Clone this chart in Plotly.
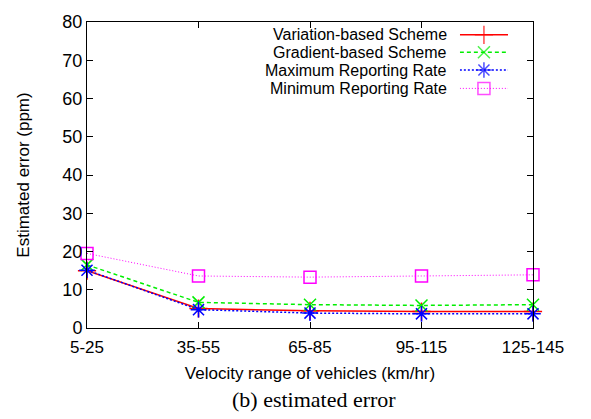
import plotly.graph_objects as go

categories = ["5-25", "35-55", "65-85", "95-115", "125-145"]
variation = [15.0, 5.1, 4.5, 4.3, 4.3]
gradient = [16.5, 6.7, 6.1, 5.9, 6.1]
max_rate = [15.1, 4.8, 3.9, 3.7, 3.7]
min_rate = [19.5, 13.6, 13.3, 13.6, 13.9]
series_names = ["Variation-based Scheme", "Gradient-based Scheme",
                "Maximum Reporting Rate", "Minimum Reporting Rate"]
y_ticks = [0, 10, 20, 30, 40, 50, 60, 70, 80]

styles = [
    dict(color="#ff0000", dash="solid", symbol="cross-thin", size=13, lw=1.5),
    dict(color="#00ee00", dash="4px,3px", symbol="x-thin", size=12, lw=1.5),
    dict(color="#0000ff", dash="2px,2px", symbol="asterisk", size=13, lw=1.5),
    dict(color="#ff00ff", dash="1px,2px", symbol="square-open", size=12, lw=1.0),
]
data = [variation, gradient, max_rate, min_rate]
xs = list(range(len(categories)))

fig = go.Figure()
for name, vals, st in zip(series_names, data, styles):
    fig.add_trace(go.Scatter(
        x=xs, y=vals, name=name, mode="lines+markers", cliponaxis=False,
        line=dict(color=st["color"], dash=st["dash"], width=st["lw"]),
        marker=dict(symbol=st["symbol"], size=st["size"], color=st["color"],
                    line=dict(color=st["color"], width=1.5)),
        showlegend=False))

# custom legend (text on the left, sample on the right, like gnuplot)
legend_rows = [0.958, 0.901, 0.843, 0.783]
for name, st, ry in zip(series_names, styles, legend_rows):
    fig.add_trace(go.Scatter(
        x=[0, 0.5, 1], y=[ry, ry, ry], xaxis="x2", yaxis="y2",
        mode="lines+markers", showlegend=False, cliponaxis=False,
        line=dict(color=st["color"], dash=st["dash"], width=st["lw"]),
        marker=dict(symbol=st["symbol"], size=[0, st["size"], 0], color=st["color"],
                    line=dict(color=st["color"], width=1.5))))
    fig.add_annotation(x=0.811, y=ry, xref="paper", yref="paper", text=name,
                       showarrow=False, xanchor="right", yanchor="middle",
                       font=dict(family="Liberation Sans", size=16, color="black"))

fig.add_annotation(x=0.51, y=-0.235, xref="paper", yref="paper",
                   text="(b) estimated error", showarrow=False,
                   xanchor="center", yanchor="middle",
                   font=dict(family="Liberation Serif", size=22, color="black"))

axis_common = dict(showline=True, linecolor="black", linewidth=1, mirror="ticks",
                   ticks="inside", ticklen=6, tickcolor="black", showgrid=False,
                   zeroline=False)

fig.update_layout(
    width=591, height=419,
    margin=dict(l=87, r=58, t=15, b=91),
    plot_bgcolor="rgba(0,0,0,0)", paper_bgcolor="white",
    xaxis=dict(range=[0, 4], tickvals=xs, ticktext=categories, ticklabelstandoff=4,
               tickfont=dict(family="Liberation Sans", size=17, color="black"),
               title=dict(text="Velocity range of vehicles (km/hr)", standoff=10,
                          font=dict(family="Liberation Sans", size=17, color="black")),
               **axis_common),
    yaxis=dict(range=[0, 80], tickvals=y_ticks,
               tickfont=dict(family="Liberation Sans", size=18, color="black"),
               title=dict(text="Estimated error (ppm)", standoff=28,
                          font=dict(family="Liberation Sans", size=17, color="black")),
               **axis_common),
    xaxis2=dict(domain=[0.836, 0.944], range=[0, 1], visible=False, anchor="y2"),
    yaxis2=dict(domain=[0, 1], range=[0, 1], visible=False, anchor="x2"),
    showlegend=False,
)

fig.write_html("out.html")
